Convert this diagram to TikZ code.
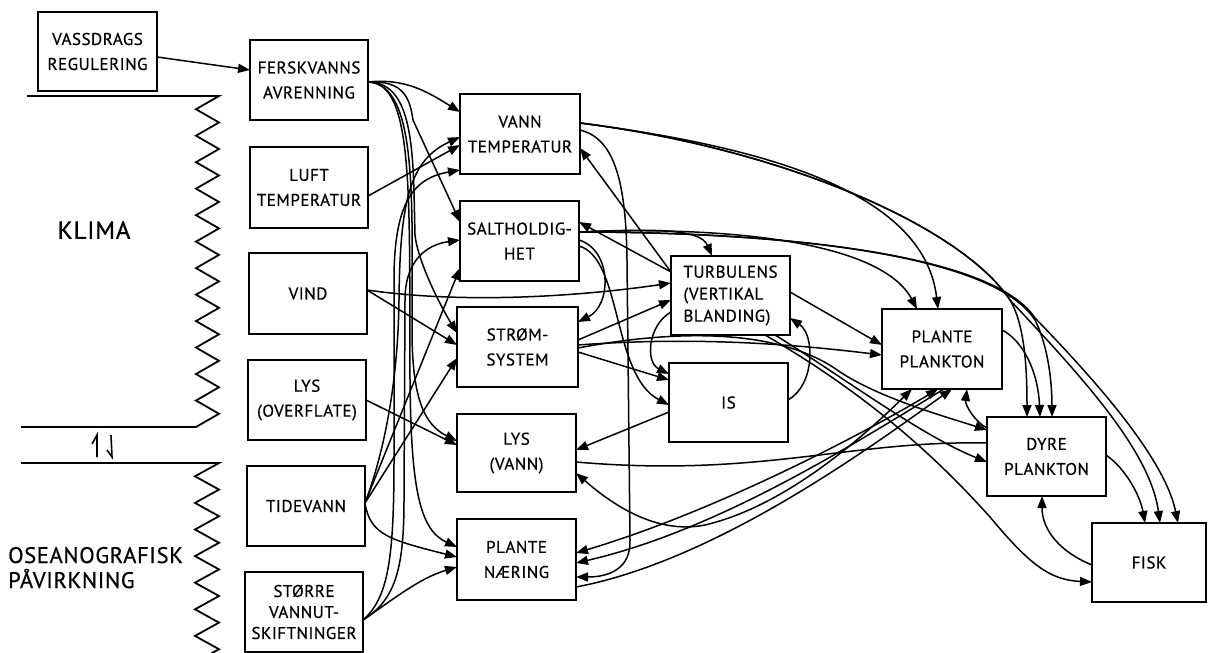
\documentclass[tikz,border=0pt]{standalone}
\usepackage{fontspec}
\setmainfont{PT Sans}[LetterSpace=3,FakeBold=0.6]
\usetikzlibrary{arrows.meta,calc}
\tikzset{
  box/.style={draw, line width=1.8pt, inner sep=0pt, outer sep=0pt, align=center, font=\fontsize{17}{25}\selectfont},
  con/.style={line width=1.5pt, -{Triangle[length=12pt,width=9pt]}},
  con2/.style={line width=1.5pt, {Triangle[length=12pt,width=9pt]}-{Triangle[length=12pt,width=9pt]}},
  plainline/.style={line width=1.5pt},
  border/.style={line width=1.8pt, line join=miter},
}
\begin{document}
\begin{tikzpicture}[x=1pt,y=-1pt]
\useasboundingbox (0,0) rectangle (1208,653);
\fill[white] (0,0) rectangle (1208,653);

% boundary lines with zigzags
\draw[border] (27,96) -- (219,96)
  \foreach \k in {1,3,...,23} { -- (196,{96+13.24*\k}) -- (219,{96+13.24*(\k+1)}) }
  -- (196,427) -- (21,427);
\draw[border] (21,463) -- (219,463)
  \foreach \k in {1,3,...,13} { -- (195,{463+13.3*\k}) -- (219,{463+13.3*(\k+1)}) }
  -- (195,662.5);
% harpoons
\draw[line width=1.6pt] (97,457) -- (97,435) -- (92,444);
\draw[line width=1.6pt] (111,435) -- (112,457) -- (107,450);

\node[font=\fontsize{25}{30}\selectfont] (klima) at (94,230) {KLIMA};
\node[font=\fontsize{22.5}{25}\selectfont, anchor=base west, inner sep=0pt] (osea1) at (8,563) {OSEANOGRAFISK};
\node[font=\fontsize{22.5}{25}\selectfont, anchor=base west, inner sep=0pt] (osea2) at (8,588) {PÅVIRKNING};

% boxes
\node[box, minimum width=119pt, minimum height=79pt] (vass) at (97.5,51.5) {VASSDRAGS\\REGULERING};
\node[box, minimum width=118pt, minimum height=80pt] (fersk) at (309,80) {FERSKVANNS\\AVRENNING};
\node[box, minimum width=118pt, minimum height=81pt] (luft) at (309,187.5) {LUFT\\TEMPERATUR};
\node[box, minimum width=118pt, minimum height=81pt] (vind) at (308,293.5) {VIND};
\node[box, minimum width=118pt, minimum height=80pt] (lyso) at (307,400) {LYS\\(OVERFLATE)};
\node[box, minimum width=118pt, minimum height=80pt] (tide) at (306,506) {TIDEVANN};
\node[box, minimum width=118pt, minimum height=80pt, font=\fontsize{17}{21}\selectfont] (stor) at (304,612) {STØRRE\\VANNUT-\\SKIFTNINGER};
\node[box, minimum width=120pt, minimum height=80pt] (vt) at (520,134) {VANN\\TEMPERATUR};
\node[box, minimum width=119pt, minimum height=80pt] (salt) at (519.5,241) {SALTHOLDIG-\\HET};
\node[box, minimum width=121pt, minimum height=80pt] (strom) at (517.5,347) {STRØM-\\SYSTEM};
\node[box, minimum width=119pt, minimum height=78pt] (lysv) at (516.5,453) {LYS\\(VANN)};
\node[box, minimum width=119pt, minimum height=81pt] (pn) at (516.5,559.5) {PLANTE\\NÆRING};
\node[box, minimum width=119pt, minimum height=79pt, align=left, font=\fontsize{17}{22}\selectfont] (turb) at (730.5,295.5) {TURBULENS\\(VERTIKAL\\BLANDING)};
\node[box, minimum width=119pt, minimum height=79pt] (is) at (728.5,402.5) {IS};
\node[box, minimum width=120pt, minimum height=80pt] (pp) at (942,349) {PLANTE\\PLANKTON};
\node[box, minimum width=119pt, minimum height=79pt] (dyre) at (1046.5,456.5) {DYRE\\PLANKTON};
\node[box, minimum width=114pt, minimum height=79pt] (fisk) at (1149,562.5) {FISK};

% left column to middle
\draw[con] ($(vass.north west)+(119,45)$) -- ($(fersk.north west)+(0,30)$);
\draw[con] ($(fersk.north west)+(118,42)$) .. controls (405,78) and (428,92) .. ($(vt.north west)+(0,18)$);
\draw[con] ($(fersk.north west)+(118,42)$) .. controls (405,80) and (410,100) .. (413,120) -- ($(salt.north west)+(0,21)$);
\draw[con] ($(fersk.north west)+(118,42)$) .. controls (416,82) and (413,160) .. (415,235) .. controls (418,262) and (440,305) .. ($(strom.north west)+(0,26)$);
\draw[con] ($(fersk.north west)+(118,42)$) .. controls (418,84) and (412,200) .. (412,330) .. controls (412,400) and (425,425) .. ($(lysv.north west)+(0,27)$);
\draw[con] ($(fersk.north west)+(118,42)$) .. controls (415,82) and (409,200) .. (410,380) .. controls (411,490) and (420,530) .. ($(pn.north west)+(0,28)$);
\draw[con] ($(luft.north west)+(118,49)$) -- ($(vt.north west)+(0,51)$);
\draw[con] ($(vind.north west)+(118,37)$) .. controls (470,305) and (590,295) .. ($(turb.north west)+(0,27)$);
\draw[con] ($(vind.north west)+(118,37)$) -- ($(strom.north west)+(0,38)$);
\draw[con] ($(lyso.north west)+(118,40)$) -- ($(lysv.north west)+(0,31)$);
\draw[con] ($(tide.north west)+(118,37)$) -- ($(salt.north west)+(0,67)$);
\draw[con] ($(tide.north west)+(118,37)$) -- ($(strom.north west)+(0,51)$);
\draw[con] ($(tide.north west)+(118,37)$) .. controls (385,450) and (398,380) .. (399,300) .. controls (400,200) and (410,160) .. ($(vt.north west)+(0,43)$);
\draw[con] ($(tide.north west)+(118,37)$) .. controls (370,535) and (390,540) .. ($(pn.north west)+(0,38)$);
\draw[con] ($(stor.north west)+(118,48)$) .. controls (395,598) and (420,578) .. ($(pn.north west)+(0,48)$);
\draw[con] ($(stor.north west)+(118,48)$) .. controls (388,598) and (394,560) .. (394,460) -- (394,280) .. controls (394,200) and (415,178) .. ($(vt.north west)+(0,76)$);
\draw[con] ($(stor.north west)+(118,48)$) .. controls (395,600) and (404,570) .. (404,500) -- (405,300) .. controls (405,262) and (425,245) .. ($(salt.north west)+(0,39)$);

% middle to right
\draw[con] ($(vt.north west)+(120,29)$) .. controls (790,150) and (925,200) .. ($(pp.north west)+(56,0)$);
\draw[con] ($(vt.north west)+(120,29)$) .. controls (780,148) and (960,225) .. (1010,300) .. controls (1025,325) and (1027,370) .. ($(dyre.north west)+(40,0)$);
\draw[con] ($(vt.north west)+(120,29)$) .. controls (780,148) and (960,225) .. (1010,300) .. controls (1080,375) and (1150,450) .. ($(fisk.north west)+(68,0)$);
\draw[con] ($(vt.north west)+(120,36)$) .. controls (612,138) and (626,175) .. (627,260) -- (630,540) .. controls (631,568) and (610,577) .. ($(pn.north west)+(119,58)$);
\draw[con] ($(turb.north west)+(0,16)$) -- ($(vt.north west)+(120,54)$);
\draw[con] ($(turb.north west)+(0,16)$) -- ($(salt.north west)+(119,21)$);
\draw[con] ($(salt.north west)+(119,31)$) .. controls (650,229) and (700,228) .. ($(turb.north west)+(41,0)$);
\draw[con] ($(salt.north west)+(119,31)$) .. controls (720,226) and (880,240) .. ($(pp.north west)+(35,0)$);
\draw[con] ($(salt.north west)+(119,31)$) .. controls (760,232) and (990,250) .. (1035,320) .. controls (1050,350) and (1052,390) .. ($(dyre.north west)+(65,0)$);
\draw[con] ($(salt.north west)+(119,31)$) .. controls (760,232) and (990,250) .. (1035,318) .. controls (1100,385) and (1165,460) .. ($(fisk.north west)+(86,0)$);
\draw[con] ($(salt.north west)+(119,39)$) .. controls (612,250) and (612,305) .. ($(strom.north west)+(121,15)$);
\draw[con] ($(salt.north west)+(119,45)$) .. controls (622,258) and (612,375) .. ($(is.north west)+(0,42)$);
\draw[con] ($(strom.north west)+(121,33)$) -- ($(turb.north west)+(0,44)$);
\draw[con] ($(strom.north west)+(121,38)$) .. controls (700,336) and (800,345) .. ($(pp.north west)+(0,46)$);
\draw[con] ($(strom.north west)+(121,45)$) -- ($(is.north west)+(0,17)$);
\draw[con] ($(strom.north west)+(121,41)$) .. controls (700,325) and (790,335) .. (840,372) .. controls (880,398) and (940,415) .. ($(dyre.north west)+(0,13)$);
\draw[con] ($(turb.north west)+(0,56)$) .. controls (648,325) and (645,362) .. ($(is.north west)+(0,11)$);
\draw[con] ($(is.north west)+(119,37)$) .. controls (815,385) and (815,335) .. ($(turb.north west)+(119,62)$);
\draw[con] ($(is.north west)+(0,49)$) -- ($(lysv.north west)+(119,36)$);
\draw[con] ($(turb.north west)+(119,36)$) -- ($(pp.north west)+(0,36)$);
\draw[con] ($(turb.north west)+(104,79)$) .. controls (840,375) and (920,435) .. ($(dyre.north west)+(0,45)$);
\draw[con] ($(turb.north west)+(94,79)$) .. controls (860,390) and (930,450) .. (990,517) .. controls (1030,565) and (1050,580) .. ($(fisk.north west)+(0,59)$);
\draw[plainline] ($(lysv.north west)+(119,48)$) .. controls (760,478) and (850,440) .. ($(dyre.north west)+(0,26)$);
\draw[con2] ($(lysv.north west)+(119,59)$) .. controls (630,520) and (670,532) .. (705,525) .. controls (790,505) and (870,430) .. ($(pp.north west)+(30,80)$);
\draw[con2] ($(pn.north west)+(119,34)$) .. controls (720,510) and (870,430) .. ($(pp.north west)+(56,80)$);
\draw[con] ($(pp.north west)+(62,80)$) .. controls (860,440) and (720,530) .. ($(pn.north west)+(119,44)$);
\draw[con] ($(pn.north west)+(119,68)$) .. controls (720,560) and (880,440) .. ($(pp.north west)+(70,80)$);
\draw[con] ($(dyre.north west)+(0,11)$) .. controls (975,422) and (965,405) .. ($(pp.north west)+(85,80)$);
\draw[con] ($(pp.north west)+(120,21)$) .. controls (1022,340) and (1038,370) .. ($(dyre.north west)+(53,0)$);
\draw[con] ($(dyre.north west)+(119,38)$) .. controls (1125,468) and (1140,495) .. ($(fisk.north west)+(53,0)$);
\draw[con] ($(fisk.north west)+(0,42)$) .. controls (1060,552) and (1042,530) .. ($(dyre.north west)+(55,79)$);
\end{tikzpicture}
\end{document}
